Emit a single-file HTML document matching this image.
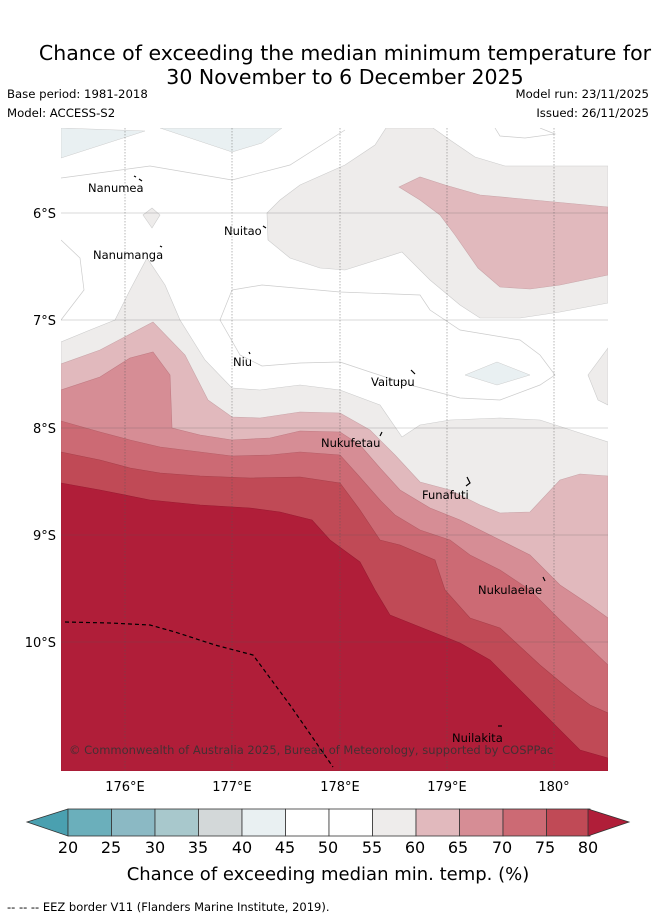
<!DOCTYPE html>
<html><head><meta charset="utf-8"><style>
body{margin:0;background:#fff;font-family:"DejaVu Sans","Liberation Sans",sans-serif;}
#wrap{position:relative;width:655px;height:919px;overflow:hidden;}
.t{position:absolute;white-space:nowrap;color:#000;}
svg text{font-family:"DejaVu Sans","Liberation Sans",sans-serif;}
</style></head><body>
<div id="wrap">
<div class="t" style="left:0;width:690px;text-align:center;top:41px;font-size:20.5px;line-height:24px;">Chance of exceeding the median minimum temperature for<br>30 November to 6 December 2025</div>
<div class="t" style="left:7px;top:87px;font-size:11.7px;">Base period: 1981-2018</div>
<div class="t" style="left:7px;top:106px;font-size:11.7px;">Model: ACCESS-S2</div>
<div class="t" style="right:6px;top:87px;font-size:11.7px;">Model run: 23/11/2025</div>
<div class="t" style="right:6px;top:106px;font-size:11.7px;">Issued: 26/11/2025</div>

<svg width="655" height="919" style="position:absolute;left:0;top:0">
<defs><clipPath id="c"><rect x="61" y="128" width="547" height="643"/></clipPath></defs>
<g clip-path="url(#c)">
<rect x="61" y="128" width="547" height="643" fill="#fff"/>
<polygon fill="#e9f0f2" stroke="#ccc" stroke-width="0.5" points="61,128 145,131 61,158"/>
<polygon fill="#e9f0f2" stroke="#ccc" stroke-width="0.5" points="160,128 282,128 262,143 232,152"/>
<polygon fill="#e9f0f2" stroke="#ccc" stroke-width="0.5" points="465,375 497,362 530,375 497,385"/>
<polyline fill="none" stroke="#ccc" stroke-width="0.7" points="61,178 150,166 232,180 290,165 345,130"/>
<polyline fill="none" stroke="#ccc" stroke-width="0.7" points="495,128 500,136 525,138 555,134 540,128"/>
<polyline fill="none" stroke="#ccc" stroke-width="0.7" points="61,240 80,258 84,290 61,320"/>
<polyline fill="none" stroke="#ccc" stroke-width="0.7" points="232,290 220,320 240,355 262,366 300,363 340,362 370,372 410,385 460,398 500,400 540,385 555,375 540,355 520,340 460,330 430,310 420,295 340,292 262,285 232,290"/>
<polygon fill="#eeeceb" stroke="#ccc" stroke-width="0.6" points="386,128 433,128 450,140 475,157 505,166 608,166 608,303 560,312 520,318 480,318 460,305 430,280 402,252 345,270 320,268 290,258 268,240 267,213 280,200 300,185 345,165 375,145"/>
<polygon fill="#eeeceb" stroke="#ccc" stroke-width="0.6" points="143,215 152,208 160,215 152,228"/>
<polygon fill="#eeeceb" stroke="#ccc" stroke-width="0.6" points="588,375 608,348 608,405 598,400"/>
<polygon fill="#eeeceb" stroke="#ccc" stroke-width="0.6" points="61,342 90,330 115,320 130,290 147,258 165,285 180,320 205,360 232,388 260,390 300,385 340,390 380,405 402,437 420,425 450,420 500,418 540,420 580,433 608,442 608,771 61,771"/>
<polygon fill="#e1b9bd" stroke="#c9a5a9" stroke-width="0.6" points="399,187 420,177 445,185 480,195 608,207 608,275 560,285 530,289 500,287 478,268 455,235 440,215 420,200"/>
<polygon fill="#e1b9bd" stroke="#c9a5a9" stroke-width="0.6" points="61,364 100,350 153,322 185,355 208,400 232,417 260,418 300,412 340,413 370,430 395,455 420,482 450,490 480,505 500,513 530,512 560,480 580,474 608,476 608,771 61,771"/>
<polygon fill="#d68d95" stroke="#c07b83" stroke-width="0.6" points="61,390 100,377 130,358 153,352 170,375 172,428 200,435 232,440 270,438 300,431 340,432 360,445 380,468 400,490 430,508 460,520 500,540 530,555 560,585 590,605 608,618 608,771 61,771"/>
<polygon fill="#cc6a74" stroke="#b65f68" stroke-width="0.6" points="61,421 100,432 130,440 160,447 200,452 232,456 270,455 300,452 340,455 358,475 380,500 395,515 420,530 450,540 470,555 500,570 530,590 560,620 590,648 608,665 608,771 61,771"/>
<polygon fill="#c04a56" stroke="#a8404b" stroke-width="0.6" points="61,452 100,460 130,468 160,473 200,476 250,478 300,477 340,483 360,510 380,540 400,545 435,560 445,590 470,618 500,628 540,665 570,690 590,705 608,713 608,771 61,771"/>
<polygon fill="#b01e39" stroke="#9a1b32" stroke-width="0.6" points="61,483 100,490 150,500 200,505 250,508 280,512 312,520 330,540 360,562 375,590 390,615 420,627 460,643 490,660 520,690 550,720 580,750 608,758 608,771 61,771"/>
</g>
<g clip-path="url(#c)">
<g stroke="#555" stroke-width="0.6" stroke-dasharray="1.5,1.5" opacity="0.7">
<line x1="125" y1="128" x2="125" y2="771"/><line x1="232" y1="128" x2="232" y2="771"/><line x1="340" y1="128" x2="340" y2="771"/><line x1="447" y1="128" x2="447" y2="771"/><line x1="554" y1="128" x2="554" y2="771"/>
</g>
<g stroke="#555" stroke-width="0.6" opacity="0.45">
<line x1="61" y1="213" x2="608" y2="213"/><line x1="61" y1="320" x2="608" y2="320"/><line x1="61" y1="428" x2="608" y2="428"/><line x1="61" y1="535" x2="608" y2="535"/><line x1="61" y1="642" x2="608" y2="642"/>
</g>
</g>
<polyline fill="none" stroke="#000" stroke-width="1.2" stroke-dasharray="4,3" points="65,622 110,623 150,625 175,632 215,645 253,655 290,705 333,767"/>
<g stroke="#000" stroke-width="1.2" fill="none">
<path d="M134,176 L136,177 M139,179 L142,181"/><path d="M160,246 L162,247"/><path d="M263,226 L266,228"/><path d="M249,352 L250,354"/><path d="M411,370 L415,374"/><path d="M382,432 L380,436"/><path d="M467,477 L470,483 L466,486"/><path d="M543,577 L545,581"/><path d="M498,726 L502,726"/>
</g>
<g font-size="11.5" fill="#000">
<text x="88" y="192">Nanumea</text>
<text x="93" y="259">Nanumanga</text>
<text x="224" y="235">Nuitao</text>
<text x="233" y="366">Niu</text>
<text x="371" y="386">Vaitupu</text>
<text x="321" y="447">Nukufetau</text>
<text x="422" y="499">Funafuti</text>
<text x="478" y="594">Nukulaelae</text>
<text x="452" y="742">Nuilakita</text>
</g>
<text x="69" y="754" font-size="11.5" fill="#333" opacity="0.85">© Commonwealth of Australia 2025, Bureau of Meteorology, supported by COSPPac</text>
<g font-size="13" fill="#000" text-anchor="end">
<text x="56" y="218">6°S</text><text x="56" y="325">7°S</text><text x="56" y="433">8°S</text><text x="56" y="540">9°S</text><text x="56" y="647">10°S</text>
</g>
<g font-size="13" fill="#000" text-anchor="middle">
<text x="125" y="791">176°E</text><text x="232" y="791">177°E</text><text x="340" y="791">178°E</text><text x="447" y="791">179°E</text><text x="554" y="791">180°</text>
</g>
<g stroke="#333" stroke-width="0.8">
<polygon points="68,809 27,822 68,836" fill="#4aa0b0"/>
<rect x="68" y="809" width="43.5" height="27" fill="#6bafbb"/>
<rect x="111.5" y="809" width="43.5" height="27" fill="#8bb9c4"/>
<rect x="155" y="809" width="43.5" height="27" fill="#a8c8cc"/>
<rect x="198.5" y="809" width="43.5" height="27" fill="#d3d8d9"/>
<rect x="242" y="809" width="43.5" height="27" fill="#e9f0f2"/>
<rect x="285.5" y="809" width="43.5" height="27" fill="#ffffff"/>
<rect x="329" y="809" width="43.5" height="27" fill="#ffffff"/>
<rect x="372.5" y="809" width="43.5" height="27" fill="#eeeceb"/>
<rect x="416" y="809" width="43.5" height="27" fill="#e1b9bd"/>
<rect x="459.5" y="809" width="43.5" height="27" fill="#d68d95"/>
<rect x="503" y="809" width="43.5" height="27" fill="#cc6a74"/>
<rect x="546.5" y="809" width="43.5" height="27" fill="#c04a56"/>
<polygon points="588,809 629,822 588,836" fill="#b01e39"/>
</g>
<g font-size="16" fill="#000" text-anchor="middle">
<text x="68" y="853">20</text><text x="111" y="853">25</text><text x="155" y="853">30</text><text x="198" y="853">35</text><text x="242" y="853">40</text><text x="285" y="853">45</text><text x="328" y="853">50</text><text x="372" y="853">55</text><text x="415" y="853">60</text><text x="458" y="853">65</text><text x="502" y="853">70</text><text x="545" y="853">75</text><text x="588" y="853">80</text>
</g>
<text x="328" y="880" text-anchor="middle" font-size="18">Chance of exceeding median min. temp. (%)</text>
<text x="7" y="911" font-size="11.5">-- -- -- EEZ border V11 (Flanders Marine Institute, 2019).</text>
</svg>
</div>
</body></html>
